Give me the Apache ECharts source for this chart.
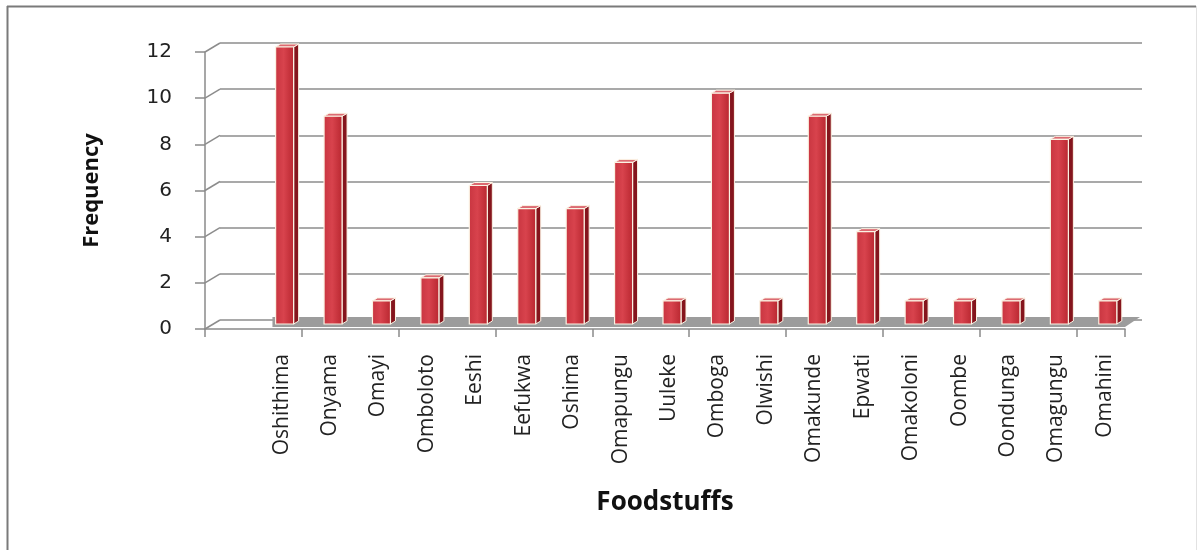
<!DOCTYPE html>
<html>
<head>
<meta charset="utf-8">
<script src="https://cdn.jsdelivr.net/npm/echarts@6/dist/echarts.min.js"></script>
<style>
html,body{margin:0;padding:0;background:#fff;}
#chart{width:1203px;height:550px;}
</style>
</head>
<body>
<div id="chart"></div>
<script>
// ---- data ----
const foods = ['Oshithima','Onyama','Omayi','Omboloto','Eeshi','Eefukwa','Oshima','Omapungu','Uuleke','Omboga','Olwishi','Omakunde','Epwati','Omakoloni','Oombe','Oondunga','Omagungu','Omahini'];
const frequency = [12, 9, 1, 2, 6, 5, 5, 7, 1, 10, 1, 9, 4, 1, 1, 1, 8, 1];
const yTicks = [0, 2, 4, 6, 8, 10, 12];
const categories = [''].concat(foods);

// ---- chart ----
const chart = echarts.init(document.getElementById('chart'), null, {renderer: 'canvas'});
const barData = frequency.map((v, i) => [i + 1, v]);

const DEPTH_X = 15, DEPTH_Y = -9;

const option = {
  animation: false,
  backgroundColor: '#fff',
  graphic: [
    {type: 'line', shape: {x1: 7.5, y1: 6, x2: 7.5, y2: 550}, style: {stroke: '#7a7a7a', lineWidth: 2}, z: 100},
    {type: 'line', shape: {x1: 7, y1: 6.5, x2: 1196, y2: 6.5}, style: {stroke: '#7a7a7a', lineWidth: 2}, z: 100},
    {type: 'line', shape: {x1: 1196.5, y1: 6, x2: 1196.5, y2: 550}, style: {stroke: '#e2e2e2', lineWidth: 1}, z: 100}
  ],
  grid: [
    {left: 205, right: 78, top: 52, bottom: 221},
    {left: 220, right: 61, top: 43, bottom: 230},
    {left: 209, right: 74, top: 52, bottom: 221}
  ],
  xAxis: [
    {
      type: 'category', gridIndex: 0, data: categories, boundaryGap: true,
      axisLine: {show: true, lineStyle: {color: '#8a8a8a', width: 1.5}},
      axisTick: {show: true, length: 8, lineStyle: {color: '#8a8a8a', width: 1.5}},
      axisLabel: {show: false},
      name: 'Foodstuffs', nameLocation: 'middle', nameGap: 174,
      nameTextStyle: {fontFamily: 'Open Sans', fontWeight: 'bold', fontSize: 26, color: '#111', verticalAlign: 'middle'}
    },
    {type: 'category', gridIndex: 1, data: categories, show: false},
    {
      type: 'category', gridIndex: 2, data: categories, boundaryGap: true,
      axisLine: {show: false}, axisTick: {show: false},
      axisLabel: {show: true, rotate: 90, interval: 0, margin: 25, fontFamily: 'Open Sans', fontSize: 21, color: '#222'}
    }
  ],
  yAxis: [
    {
      type: 'value', gridIndex: 0, min: 0, max: 12, interval: 2,
      axisLine: {show: true, lineStyle: {color: '#8a8a8a', width: 1.5}},
      axisTick: {show: true, length: 10, lineStyle: {color: '#8a8a8a', width: 1.5}},
      splitLine: {show: false},
      axisLabel: {margin: 33, fontFamily: 'DejaVu Sans', fontSize: 20, color: '#222',
        formatter: v => yTicks.indexOf(v) >= 0 ? String(v) : ''},
      name: 'Frequency', nameLocation: 'middle', nameGap: 102, nameRotate: 90,
      nameTextStyle: {fontFamily: 'Open Sans', fontWeight: 'bold', fontSize: 22, color: '#111'}
    },
    {
      type: 'value', gridIndex: 1, min: 0, max: 12, interval: 2,
      axisLine: {show: false}, axisTick: {show: false}, axisLabel: {show: false},
      splitLine: {show: true, lineStyle: {color: '#8c8c8c', width: 1.5}}
    },
    {type: 'value', gridIndex: 2, min: 0, max: 12, show: false}
  ],
  series: [
    // connectors from front axis ticks to back wall gridlines
    {
      type: 'custom', xAxisIndex: 0, yAxisIndex: 0, z: 1, silent: true,
      data: yTicks.map(v => [0, v]),
      renderItem: function (params, api) {
        const p = api.coord([0, api.value(1)]);
        const band = api.size([1, 0])[0];
        const x0 = p[0] - band / 2;
        return {type: 'line', shape: {x1: x0, y1: p[1], x2: x0 + DEPTH_X, y2: p[1] + DEPTH_Y},
          style: {stroke: '#8c8c8c', lineWidth: 1.5}};
      }
    },
    // gray floor strip
    {
      type: 'custom', xAxisIndex: 0, yAxisIndex: 0, z: 2, silent: true,
      data: [[1, 0]],
      renderItem: function (params, api) {
        const band = api.size([1, 0])[0];
        const a = api.coord([1, 0]);
        const b = api.coord([categories.length - 1, 0]);
        const lx = a[0] - band / 2 + 19;
        const rx = b[0] + band / 2;
        const y0 = a[1] - 2;
        return {type: 'polygon', shape: {points: [[lx, y0], [rx, y0], [rx + DEPTH_X, y0 - 10], [lx, y0 - 10]]},
          style: {fill: '#9c9c9c'}};
      }
    },
    // 3D-styled bars
    {
      type: 'custom', xAxisIndex: 0, yAxisIndex: 0, z: 5, silent: true,
      data: barData,
      renderItem: function (params, api) {
        const i = api.value(0), v = api.value(1);
        const base = api.coord([i, 0]);
        const top = api.coord([i, v]);
        const cx = base[0] + 7;
        const yb = base[1] - 5;
        const yt = top[1] - 5;
        const hw = 9, dx = 5, dy = -3;
        const front = new echarts.graphic.LinearGradient(0, 0, 1, 0, [
          {offset: 0, color: '#c83540'},
          {offset: 0.45, color: '#d8434d'},
          {offset: 1, color: '#b8262f'}
        ]);
        return {
          type: 'group',
          children: [
            {type: 'polygon', shape: {points: [[cx + hw, yb], [cx + hw + dx, yb + dy], [cx + hw + dx, yt + dy], [cx + hw, yt]]},
              style: {fill: '#85151d', stroke: '#fbf3e4', lineWidth: 1}},
            {type: 'polygon', shape: {points: [[cx - hw, yt], [cx - hw + dx, yt + dy], [cx + hw + dx, yt + dy], [cx + hw, yt]]},
              style: {fill: '#dc6a72', stroke: '#fbf3e4', lineWidth: 1}},
            {type: 'rect', shape: {x: cx - hw, y: yt, width: hw * 2, height: yb - yt},
              style: {fill: front, stroke: '#fbf3e4', lineWidth: 1.2}}
          ]
        };
      }
    }
  ]
};
chart.setOption(option);
</script>
</body>
</html>
